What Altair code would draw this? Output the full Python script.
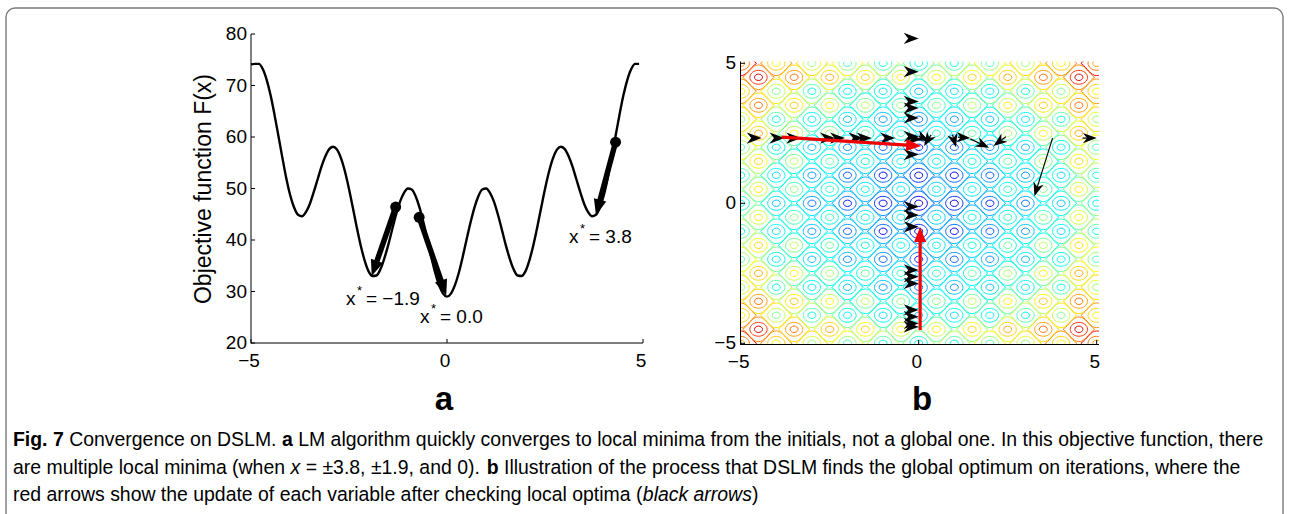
import math
import altair as alt
import pandas as pd

FONT = "Liberation Sans"

# ---------------- Panel a data ----------------
A_X = [round(-5.0 + 0.1 * i, 1) for i in range(100)]
A_F = [74.1, 74.2, 74.2, 73.2, 71.1, 68.1, 64.3, 60.2, 56.0, 52.0,
       48.7, 46.3, 44.9, 44.6, 45.4, 47.0, 49.3, 51.8, 54.3, 56.3,
       57.7, 58.1, 57.5, 55.8, 53.2, 49.9, 46.2, 42.4, 38.9, 36.0,
       33.9, 33.0, 33.1, 34.3, 36.4, 39.0, 42.0, 44.9, 47.4, 49.1,
       50.0, 49.8, 48.5, 46.3, 43.4, 40.1, 36.7, 33.6, 31.2, 29.6,
       29.0,
       29.6, 31.2, 33.6, 36.7, 40.1, 43.4, 46.3, 48.5, 49.8, 50.0,
       49.1, 47.4, 44.9, 42.0, 39.0, 36.4, 34.3, 33.1, 33.0, 33.9,
       36.0, 38.9, 42.4, 46.2, 49.9, 53.2, 55.8, 57.5, 58.1, 57.7,
       56.3, 54.3, 51.8, 49.3, 47.0, 45.4, 44.6, 44.9, 46.3, 48.7,
       52.0, 56.0, 60.2, 64.3, 68.1, 71.1, 73.2, 74.2, 74.2]
A_YTICKS = [20, 30, 40, 50, 60, 70, 80]
A_XTICKS = [-5, 0, 5]
A_XTICK_LABELS = ["\u22125", "0", "5"]
A_START_X = [-1.31, -0.71, 4.30]
A_START_Y = [46.4, 44.4, 59.0]
A_END_X = [-1.92, -0.02, 3.80]
A_END_Y = [33.0, 29.2, 44.8]
A_MIN_LABELS = ["= \u22121.9", "= 0.0", "= 3.8"]

# ---------------- Panel b data ----------------
B_TICKS = [-5, 0, 5]
B_TICK_LABELS = ["\u22125", "0", "5"]
B_LATTICE = [-5.0, -4.5, -4.0, -3.5, -3.0, -2.5, -2.0, -1.5, -1.0, -0.5, 0.0,
             0.5, 1.0, 1.5, 2.0, 2.5, 3.0, 3.5, 4.0, 4.5, 5.0]
B_PROFILE = [35, 48, 24, 37, 15, 30, 9, 24, 4, 20, 0,
             20, 4, 24, 9, 30, 15, 37, 24, 48, 35]
B_ROW_TIP_X = [-4.41, -3.77, -3.30, -2.35, -2.07, -1.55, -1.32, -0.66, 0.09]
B_ROW_TIP_Y = [2.33, 2.33, 2.33, 2.33, 2.33, 2.33, 2.33, 2.33, 2.30]
B_COL_TIP_Y = [5.89, 4.70, 3.64, 3.40, 3.05, 2.39, 1.74, -0.12, -0.42, -0.84,
               -2.38, -2.62, -2.86, -3.81, -4.05, -4.29, -4.41]
B_COL_TIP_X = [0.0, 0.0, 0.0, 0.0, 0.0, 0.0, 0.0, 0.0, 0.0, 0.0,
               0.0, 0.0, 0.0, 0.0, 0.0, 0.0, 0.0]
B_THIN_X1 = [0.00, 0.35, 0.95, 1.10, 1.45, 2.45, 3.76, 4.60]
B_THIN_Y1 = [2.40, 2.45, 2.45, 2.36, 2.30, 2.38, 2.33, 2.33]
B_THIN_X2 = [0.30, 0.15, 1.05, 1.45, 1.98, 2.10, 3.25, 5.00]
B_THIN_Y2 = [2.22, 2.05, 2.00, 2.33, 1.98, 2.05, 0.25, 2.33]
B_RED_X1 = [-3.85, 0.04]
B_RED_Y1 = [2.36, -4.53]
B_RED_X2 = [0.07, 0.04]
B_RED_Y2 = [2.05, -0.85]

# ---------------- caption ----------------
CAPTION = [
    [("Fig. 7", "bold", "normal"), (" Convergence on DSLM. ", "normal", "normal"),
     ("a", "bold", "normal"),
     (" LM algorithm quickly converges to local minima from the initials, not a global one. In this objective function, there",
      "normal", "normal")],
    [("are multiple local minima (when ", "normal", "normal"), ("x", "normal", "italic"),
     (" = \u00b13.8, \u00b11.9, and 0). ", "normal", "normal"), ("b", "bold", "normal"),
     (" Illustration of the process that DSLM finds the global optimum on iterations, where the",
      "normal", "normal")],
    [("red arrows show the update of each variable after checking local optima (", "normal", "normal"),
     ("black arrows", "normal", "italic"), (")", "normal", "normal")],
]

# Arial / Liberation Sans advance widths (per 1000 em) used to place caption segments
_W = {" ": 278, "(": 333, ")": 333, ",": 278, ".": 278, "=": 584, "\u00b1": 584,
      "0": 556, "1": 556, "3": 556, "7": 556, "8": 556, "9": 556,
      "D": 722, "C": 722, "F": 611, "I": 278, "L": 556, "M": 833, "S": 667,
      "a": 556, "b": 556, "c": 500, "d": 556, "e": 556, "f": 278, "g": 556, "h": 556,
      "i": 222, "j": 222, "k": 500, "l": 222, "m": 833, "n": 556, "o": 556, "p": 556,
      "q": 556, "r": 333, "s": 500, "t": 278, "u": 556, "v": 500, "w": 722, "x": 500,
      "y": 500, "z": 500}
_WB = dict(_W, **{"b": 611, "g": 611, "i": 278, "F": 611})


def em_width(s, weight):
    tab = _WB if weight == "bold" else _W
    return sum(tab.get(ch, 556) for ch in s) / 1000.0


# ---------------- layout (pixels) ----------------
AXR = [251, 643]
AYR = [343, 34]
BXR = [740.7, 1096.7]
BYR = [343.3, 63.3]
KXA = (AXR[1] - AXR[0]) / 10.0
KYA = (AYR[0] - AYR[1]) / 60.0
KXB = (BXR[1] - BXR[0]) / 10.0
KYB = (BYR[0] - BYR[1]) / 10.0

XA = alt.Scale(domain=[-5, 5], range=AXR, nice=False, zero=False)
YA = alt.Scale(domain=[20, 80], range=AYR, nice=False, zero=False)
XB = alt.Scale(domain=[-5, 5], range=BXR, nice=False, zero=False)
YB = alt.Scale(domain=[-5, 5], range=BYR, nice=False, zero=False)
JET = alt.Scale(domain=[0, 12.5, 37.5, 62.5, 87.5, 100],
                range=["#00008f", "#0000ff", "#00ffff", "#ffff00", "#ff0000", "#800000"])

ONE = alt.Data(values=[{"k": 1}])

HEAD_TRI = "M 0 0 L -2 -0.8 L -2 0.8 Z"
HEAD_CHEV = "M 0 0 L -2 -0.75 L -1.4 0 L -2 0.75 Z"
ELLIPSE = ("M -1 0 C -1 -0.44 -0.55 -0.8 0 -0.8 C 0.55 -0.8 1 -0.44 1 0 "
           "C 1 0.44 0.55 0.8 0 0.8 C -0.55 0.8 -1 0.44 -1 0 Z")
LEMON = ("M -1 0 C -0.55 -0.32 -0.4 -0.78 0 -0.78 C 0.4 -0.78 0.55 -0.32 1 0 "
         "C 0.55 0.32 0.4 0.78 0 0.78 C -0.4 0.78 -0.55 0.32 -1 0 Z")


def ang(x1, y1, x2, y2, kx, ky):
    return math.degrees(math.atan2(-(y2 - y1) * ky, (x2 - x1) * kx)) % 360


def shorten(x1, y1, x2, y2, px, kx, ky):
    L = math.hypot((x2 - x1) * kx, (y2 - y1) * ky)
    f = max(0.0, (L - px) / L) if L > 0 else 0.0
    return x1 + (x2 - x1) * f, y1 + (y2 - y1) * f


def txt(x, y, s, size=19, weight="normal", style="normal", align="left",
        font=FONT, baseline="alphabetic", angle=0, color="black"):
    return alt.Chart(ONE).mark_text(
        font=font, fontSize=size, fontWeight=weight, fontStyle=style,
        align=align, baseline=baseline, angle=angle, color=color
    ).encode(x=alt.value(x), y=alt.value(y), text=alt.value(s))


def hrule(x1, x2, y, w=1.0, color="black"):
    return alt.Chart(ONE).mark_rule(color=color, strokeWidth=w).encode(
        x=alt.value(x1), x2=alt.value(x2), y=alt.value(y))


def vrule(x, y1, y2, w=1.0, color="black"):
    return alt.Chart(ONE).mark_rule(color=color, strokeWidth=w).encode(
        x=alt.value(x), y=alt.value(y1), y2=alt.value(y2))


def rect(x1, y1, x2, y2, **kw):
    return alt.Chart(ONE).mark_rect(**kw).encode(
        x=alt.value(x1), x2=alt.value(x2), y=alt.value(y1), y2=alt.value(y2))


layers = []

# frame
layers.append(rect(6, 8, 1283, 560, fill="white", fillOpacity=0, stroke="#7a7a7a",
                   strokeWidth=1.4, cornerRadius=9))

# ---------------- Panel b : contours ----------------
rows = []
for i, xv in enumerate(B_LATTICE):
    for j, yv in enumerate(B_LATTICE):
        if i % 2 != j % 2:
            continue
        lev = B_PROFILE[i] + B_PROFILE[j]
        sgn = 1 if i % 2 == 0 else -1
        for ring, off, size in (("inner", 4, 64), ("mid", 10, 300), ("outer", 18, 1000)):
            rows.append({"x": xv, "y": yv, "ring": ring, "size": size,
                         "level": max(0, min(100, lev + sgn * off))})
cont = pd.DataFrame(rows)
for ring, shape in (("outer", LEMON), ("mid", ELLIPSE), ("inner", ELLIPSE)):
    d = cont[cont.ring == ring]
    layers.append(
        alt.Chart(d).mark_point(shape=shape, filled=False, strokeWidth=1.0, opacity=0.95)
        .encode(x=alt.X("x:Q", scale=XB, axis=None),
                y=alt.Y("y:Q", scale=YB, axis=None),
                size=alt.Size("size:Q", scale=None, legend=None),
                color=alt.Color("level:Q", scale=JET, legend=None))
    )

# masks around panel b
layers.append(rect(652, 20, 740.2, 420, fill="white", stroke=None))
layers.append(rect(652, 20, 1150, 61.5, fill="white", stroke=None))
layers.append(rect(1099, 20, 1150, 420, fill="white", stroke=None))
layers.append(rect(652, 344.5, 1150, 420, fill="white", stroke=None))

# panel b axes
layers.append(vrule(740.5, 61.5, 345))
layers.append(hrule(740.5, 1099, 344.5))
bt = pd.DataFrame({"v": B_TICKS, "lab": B_TICK_LABELS})
layers.append(alt.Chart(bt).mark_rule(color="black").encode(
    y=alt.Y("v:Q", scale=YB, axis=None), x=alt.value(740.5), x2=alt.value(745)))
layers.append(alt.Chart(bt).mark_rule(color="black").encode(
    x=alt.X("v:Q", scale=XB, axis=None), y=alt.value(344.5), y2=alt.value(340)))
layers.append(alt.Chart(bt).mark_text(font=FONT, fontSize=19, align="right", baseline="middle").encode(
    y=alt.Y("v:Q", scale=YB, axis=None), x=alt.value(736), text="lab:N"))
layers.append(alt.Chart(bt).mark_text(font=FONT, fontSize=19, align="center", baseline="middle", dx=-2).encode(
    x=alt.X("v:Q", scale=XB, axis=None), y=alt.value(362), text="lab:N"))

# panel b black arrowheads (row and column)
heads = pd.DataFrame({
    "x": B_ROW_TIP_X + B_COL_TIP_X,
    "y": B_ROW_TIP_Y + B_COL_TIP_Y,
})
heads["a"] = 0.0
layers.append(alt.Chart(heads).mark_point(shape=HEAD_CHEV, filled=True, color="black", opacity=1)
              .encode(x=alt.X("x:Q", scale=XB, axis=None), y=alt.Y("y:Q", scale=YB, axis=None),
                      angle=alt.Angle("a:Q", scale=None), size=alt.value(225)))

# thin black arrows
thin = pd.DataFrame({"x1": B_THIN_X1, "y1": B_THIN_Y1, "x2": B_THIN_X2, "y2": B_THIN_Y2})
thin["a"] = [ang(r.x1, r.y1, r.x2, r.y2, KXB, KYB) for r in thin.itertuples()]
ends = [shorten(r.x1, r.y1, r.x2, r.y2, 8, KXB, KYB) for r in thin.itertuples()]
thin["xe"] = [e[0] for e in ends]
thin["ye"] = [e[1] for e in ends]
layers.append(alt.Chart(thin).mark_rule(color="black", strokeWidth=1.2).encode(
    x=alt.X("x1:Q", scale=XB, axis=None), y=alt.Y("y1:Q", scale=YB, axis=None),
    x2="xe:Q", y2="ye:Q"))
layers.append(alt.Chart(thin).mark_point(shape=HEAD_CHEV, filled=True, color="black", opacity=1)
              .encode(x=alt.X("x2:Q", scale=XB, axis=None), y=alt.Y("y2:Q", scale=YB, axis=None),
                      angle=alt.Angle("a:Q", scale=None), size=alt.value(190)))

# red arrows
red = pd.DataFrame({"x1": B_RED_X1, "y1": B_RED_Y1, "x2": B_RED_X2, "y2": B_RED_Y2})
red["a"] = [ang(r.x1, r.y1, r.x2, r.y2, KXB, KYB) for r in red.itertuples()]
ends = [shorten(r.x1, r.y1, r.x2, r.y2, 10, KXB, KYB) for r in red.itertuples()]
red["xe"] = [e[0] for e in ends]
red["ye"] = [e[1] for e in ends]
layers.append(alt.Chart(red).mark_rule(color="#f00000", strokeWidth=3.2).encode(
    x=alt.X("x1:Q", scale=XB, axis=None), y=alt.Y("y1:Q", scale=YB, axis=None),
    x2="xe:Q", y2="ye:Q"))
layers.append(alt.Chart(red).mark_point(shape=HEAD_TRI, filled=True, color="#f00000", opacity=1)
              .encode(x=alt.X("x2:Q", scale=XB, axis=None), y=alt.Y("y2:Q", scale=YB, axis=None),
                      angle=alt.Angle("a:Q", scale=None), size=alt.value(225)))

# ---------------- Panel a ----------------
curve = pd.DataFrame({"x": A_X, "f": A_F})
layers.append(alt.Chart(curve).mark_line(color="black", strokeWidth=2.4, interpolate="monotone")
              .encode(x=alt.X("x:Q", scale=XA, axis=None), y=alt.Y("f:Q", scale=YA, axis=None)))

arr = pd.DataFrame({"x1": A_START_X, "y1": A_START_Y, "x2": A_END_X, "y2": A_END_Y})
arr["a"] = [ang(r.x1, r.y1, r.x2, r.y2, KXA, KYA) for r in arr.itertuples()]
ends = [shorten(r.x1, r.y1, r.x2, r.y2, 10, KXA, KYA) for r in arr.itertuples()]
arr["xe"] = [e[0] for e in ends]
arr["ye"] = [e[1] for e in ends]
layers.append(alt.Chart(arr).mark_rule(color="black", strokeWidth=5.5).encode(
    x=alt.X("x1:Q", scale=XA, axis=None), y=alt.Y("y1:Q", scale=YA, axis=None),
    x2="xe:Q", y2="ye:Q"))
layers.append(alt.Chart(arr).mark_point(shape=HEAD_TRI, filled=True, color="black", opacity=1)
              .encode(x=alt.X("x2:Q", scale=XA, axis=None), y=alt.Y("y2:Q", scale=YA, axis=None),
                      angle=alt.Angle("a:Q", scale=None), size=alt.value(256)))
layers.append(alt.Chart(arr).mark_point(shape="circle", filled=True, color="black", opacity=1)
              .encode(x=alt.X("x1:Q", scale=XA, axis=None), y=alt.Y("y1:Q", scale=YA, axis=None),
                      size=alt.value(120)))

# panel a axes
layers.append(vrule(251, 34, 343.5))
layers.append(hrule(251, 643, 343))
yt = pd.DataFrame({"v": A_YTICKS})
layers.append(alt.Chart(yt).mark_rule(color="black").encode(
    y=alt.Y("v:Q", scale=YA, axis=None), x=alt.value(251), x2=alt.value(255)))
layers.append(alt.Chart(yt).mark_text(font=FONT, fontSize=19, align="right", baseline="middle").encode(
    y=alt.Y("v:Q", scale=YA, axis=None), x=alt.value(247), text="v:Q"))
xt = pd.DataFrame({"v": A_XTICKS, "lab": A_XTICK_LABELS})
layers.append(alt.Chart(xt).mark_rule(color="black").encode(
    x=alt.X("v:Q", scale=XA, axis=None), y=alt.value(343), y2=alt.value(339)))
layers.append(alt.Chart(xt).mark_text(font=FONT, fontSize=19, align="center", baseline="middle", dx=-2).encode(
    x=alt.X("v:Q", scale=XA, axis=None), y=alt.value(361), text="lab:N"))

layers.append(txt(204, 189, "Objective function F(x)", size=23, align="center",
                  baseline="middle", angle=270))

# minima annotations
for (xp, yp, lab) in ((346, 305, A_MIN_LABELS[0]), (420, 323, A_MIN_LABELS[1]),
                      (569, 243, A_MIN_LABELS[2])):
    layers.append(txt(xp, yp, "x", size=19))
    layers.append(txt(xp + 11, yp - 10, "*", size=13))
    layers.append(txt(xp + 20, yp, lab, size=19))

# panel letters
layers.append(txt(444, 410, "a", size=33, weight="bold", align="center"))
layers.append(txt(922, 410, "b", size=33, weight="bold", align="center"))

# ---------------- caption (segments laid out end to end) ----------------
CAP_LEFT, CAP_RIGHT = 13, 1264
line1_em = sum(em_width(s, w) for s, w, _ in CAPTION[0])
CAP = (CAP_RIGHT - CAP_LEFT) / line1_em
for base, line in zip((446, 474, 501), CAPTION):
    xpos = CAP_LEFT
    for s, w, st in line:
        lead = len(s) - len(s.lstrip(" "))
        xdraw = xpos + em_width(s[:lead], w) * CAP
        layers.append(txt(xdraw, base, s.strip(" "), size=CAP, weight=w, style=st))
        xpos += em_width(s, w) * CAP

res = {c: "independent" for c in ("x", "y", "color", "size", "angle")}
chart = (alt.layer(*layers)
         .resolve_scale(**res)
         .properties(width=1290, height=514, autosize=alt.AutoSizeParams(type="none"),
                     padding={"left": 0, "right": 0, "top": 0, "bottom": 0},
                     background="white")
         .configure_view(stroke=None))

chart.save("out.html", embed_options={"renderer": "svg", "actions": False})
